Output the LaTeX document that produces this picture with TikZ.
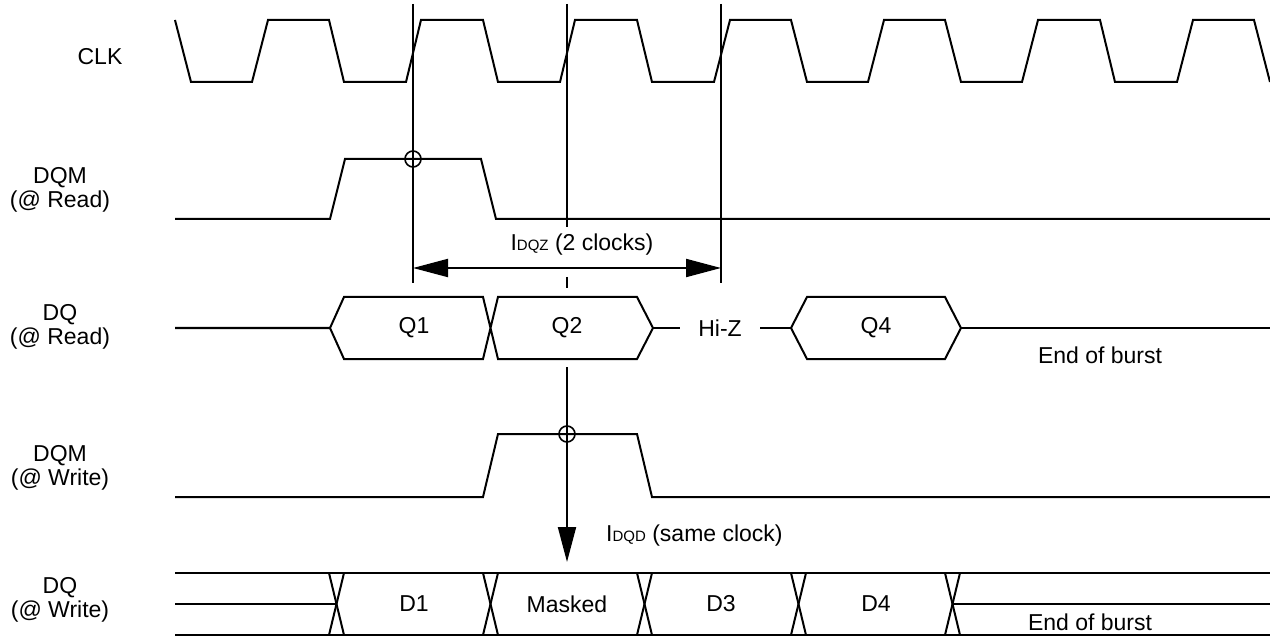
\documentclass[tikz,border=0pt]{standalone}
\usepackage{fontspec}
\setmainfont{Liberation Sans}
\usetikzlibrary{arrows.meta}
\begin{document}
\begin{tikzpicture}[x=1pt,y=-1pt,
  sig/.style={line width=2pt},
  guide/.style={line width=2pt},
  lbl/.style={font=\fontsize{23}{24}\selectfont, inner sep=0pt, align=center},
  txt/.style={font=\fontsize{23}{24}\selectfont, inner sep=0pt},
  mark circ/.style={line width=1.6pt},
  dblarrow/.style={line width=2pt, {Triangle[length=35pt,width=18pt]}-{Triangle[length=35pt,width=18pt]}},
  downarrow/.style={line width=2pt, -{Triangle[length=35pt,width=18pt]}}
]
\useasboundingbox (0,0) rectangle (1270,639);

% ---------- labels ----------
\node[lbl] (lclk) at (100,57) {CLK};
\node[lbl] (ldqmr) at (60,190) {DQM\\(@ Read)};
\node[lbl] (ldqr) at (60,327) {DQ\\(@ Read)};
\node[lbl] (ldqmw) at (60,468) {DQM\\(@ Write)};
\node[lbl] (ldqw) at (60,600) {DQ\\(@ Write)};

% ---------- CLK ----------
\draw[sig] (175,20) -- (191,82) -- (252,82) -- (268,20) -- (329,20)
  -- (344,82) -- (406,82) -- (421,20) -- (483,20)
  -- (498,82) -- (560,82) -- (575,20) -- (637,20)
  -- (652,82) -- (714,82) -- (730,20) -- (791,20)
  -- (807,82) -- (868,82) -- (884,20) -- (945,20)
  -- (961,82) -- (1022,82) -- (1038,20) -- (1100,20)
  -- (1115,82) -- (1177,82) -- (1193,20) -- (1254,20) -- (1270,82);

% ---------- reference lines ----------
\coordinate (g1t) at (413,4);   \coordinate (g1b) at (413,283);
\coordinate (g2t) at (567,4);   \coordinate (g2b) at (567,227);
\coordinate (g3t) at (721,4);   \coordinate (g3b) at (721,283);
\draw[guide] (g1t) -- (g1b);
\draw[guide] (g2t) -- (g2b);
\draw[guide] (g3t) -- (g3b);
\coordinate (tk1) at (567,277); \coordinate (tk2) at (567,288);
\draw[guide] (tk1) -- (tk2);

% ---------- DQM (@ Read) ----------
\draw[sig] (175,219) -- (330,219) -- (345,159) -- (481,159) -- (496,219) -- (1270,219);
\node[mark circ, draw, circle, minimum size=16pt, inner sep=0pt] (c1) at (413,159) {};

% ---------- tDQZ ----------
\coordinate (a1) at (413,268); \coordinate (a2) at (721,268);
\draw[dblarrow] (a1) -- (a2);
\node[txt] (tdqz) at (582,245) {I{\fontsize{15}{15}\selectfont DQZ} (2 clocks)};

% ---------- DQ (@ Read) ----------
\draw[sig] (175,328) -- (330,328) -- (344,297) -- (483,297) -- (498,359) -- (637,359)
  -- (653,328) -- (637,297) -- (498,297) -- (483,359) -- (344,359) -- (330,328);
\node[txt] (q1) at (414,328) {Q1};
\node[txt] (q2) at (567,328) {Q2};
\node[txt] (hiz) at (720,328) {Hi-Z};
\draw[sig] (653,328) -- (680,328);
\draw[sig] (760,328) -- (791,328);
\draw[sig] (791,328) -- (807,297) -- (945,297) -- (961,328) -- (945,359) -- (807,359) -- cycle;
\draw[sig] (961,328) -- (1270,328);
\node[txt] (q4) at (876,328) {Q4};
\node[txt] (eobr) at (1100,355) {End of burst};

% ---------- DQM (@ Write) ----------
\draw[sig] (175,497) -- (483,497) -- (498,434) -- (637,434) -- (652,497) -- (1270,497);
\node[mark circ, draw, circle, minimum size=16pt, inner sep=0pt] (c2) at (567,434) {};

% ---------- tDQD ----------
\coordinate (d1) at (567,367); \coordinate (d2) at (567,562);
\draw[downarrow] (d1) -- (d2);
\node[txt, anchor=west] (tdqd) at (606,536) {I{\fontsize{15}{15}\selectfont DQD} (same clock)};

% ---------- DQ (@ Write) ----------
\draw[sig] (175,573) -- (1270,573);
\draw[sig] (175,635) -- (1270,635);
\draw[sig] (175,604) -- (337,604);
\draw[sig] (953,604) -- (1270,604);
\foreach \x in {329,483,637,791,945} {
  \draw[sig] (\x,573) -- ({\x+15},635);
  \draw[sig] ({\x+15},573) -- (\x,635);
}
\node[txt] (d1t) at (414,604) {D1};
\node[txt] (dm) at (567,604) {Masked};
\node[txt] (d3) at (721,604) {D3};
\node[txt] (d4) at (876,604) {D4};
\node[txt] (eobw) at (1090,622) {End of burst};
\end{tikzpicture}
\end{document}
